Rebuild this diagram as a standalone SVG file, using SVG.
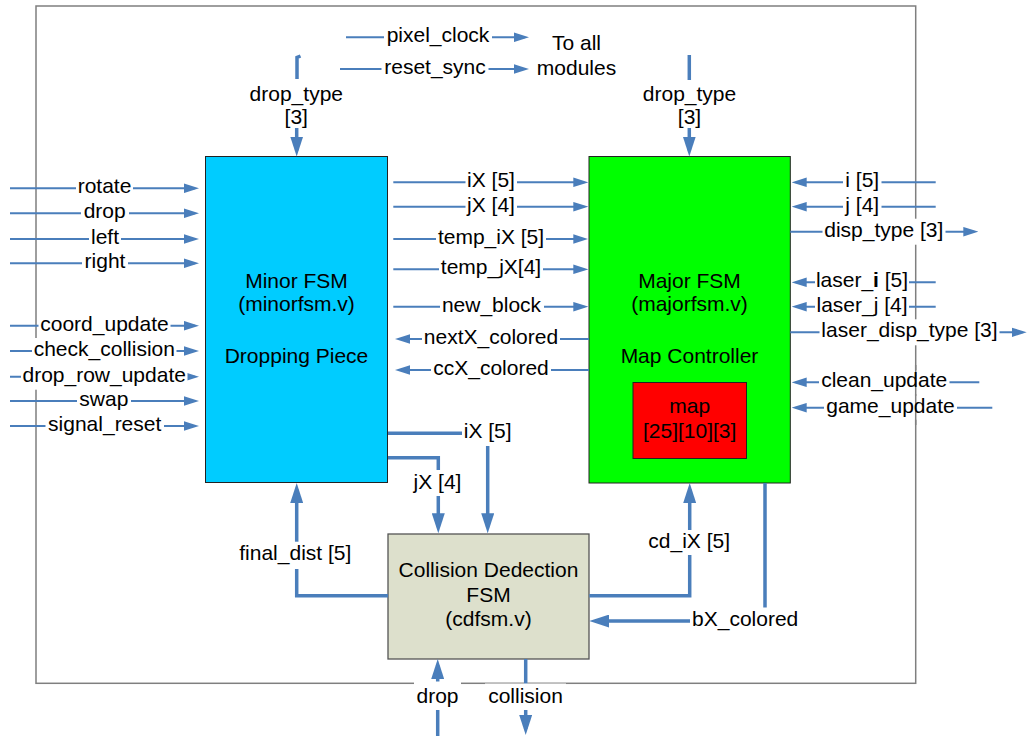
<svg xmlns="http://www.w3.org/2000/svg" width="1028" height="736" viewBox="0 0 1028 736">
<defs>
<style>
.t{font-family:"Liberation Sans",Arial,sans-serif;font-size:21px;fill:#000;text-anchor:middle}
.bg{fill:#fff}
.c{stroke:#4A7EBB;stroke-width:2;fill:none}
.ct{stroke:#4A7EBB;stroke-width:3.5;fill:none}
.frame{fill:none;stroke:#7F7F7F;stroke-width:1.5}
</style>
<marker id="a" markerUnits="userSpaceOnUse" markerWidth="15" markerHeight="10" viewBox="0 0 15 9.5" refX="11" refY="4.75" orient="auto"><path d="M0,0 L15,4.75 L0,9.5 z" fill="#4A7EBB"/></marker>
<marker id="A" markerUnits="userSpaceOnUse" markerWidth="20" markerHeight="13" viewBox="0 0 20 13" refX="14" refY="6.5" orient="auto"><path d="M0,0 L20,6.5 L0,13 z" fill="#4A7EBB"/></marker>
</defs>
<rect width="1028" height="736" fill="#fff"/>
<rect id="frame" class="frame" x="36" y="6" width="879.7" height="677.3"/>

<g id="minor">
<rect x="205.5" y="156.5" width="182" height="326" fill="#00CCFF" stroke="#222" stroke-width="1"/>
<text class="t" x="296.5" y="288">Minor FSM</text>
<text class="t" x="296.5" y="311">(minorfsm.v)</text>
<text class="t" x="296.5" y="363">Dropping Piece</text>
</g>
<g id="major">
<rect x="589" y="156.5" width="201.3" height="326.5" fill="#00FF00" stroke="#222" stroke-width="1"/>
<text class="t" x="689.5" y="288">Major FSM</text>
<text class="t" x="689.5" y="311">(majorfsm.v)</text>
<text class="t" x="689.5" y="363">Map Controller</text>
</g>
<g id="map">
<rect x="633" y="382.5" width="113.5" height="76" fill="#FF0000" stroke="#222" stroke-width="1"/>
<text class="t" x="689.7" y="412.5">map</text>
<text class="t" x="689.7" y="437.5">[25][10][3]</text>
</g>
<g id="collision">
<rect x="388" y="534" width="201" height="125" fill="#DDE0CC" stroke="#555" stroke-width="1.3"/>
<text class="t" x="488.5" y="576.5">Collision Dedection</text>
<text class="t" x="488.5" y="601.5">FSM</text>
<text class="t" x="488.5" y="625.5">(cdfsm.v)</text>
</g>

<g id="connectors">
<path class="c" d="M346,37.3 H525" marker-end="url(#a)"/>
<path class="c" d="M340,69 H525" marker-end="url(#a)"/>
<path class="ct" d="M300.5,56 L297,57.5 V79"/>
<path class="ct" d="M296.7,128 V150.5" marker-end="url(#A)"/>
<path class="ct" d="M689.3,55 V80"/>
<path class="ct" d="M689.3,128 V150.5" marker-end="url(#A)"/>
<path class="c" d="M10,188.3 H195" marker-end="url(#a)"/>
<path class="c" d="M10,213.3 H195" marker-end="url(#a)"/>
<path class="c" d="M10,239 H195" marker-end="url(#a)"/>
<path class="c" d="M10,263.3 H195" marker-end="url(#a)"/>
<path class="c" d="M10,325.7 H195" marker-end="url(#a)"/>
<path class="c" d="M10,351 H195" marker-end="url(#a)"/>
<path class="c" d="M10,376.7 H195" marker-end="url(#a)"/>
<path class="c" d="M10,401 H195" marker-end="url(#a)"/>
<path class="c" d="M10,426 H195" marker-end="url(#a)"/>
<path class="c" d="M393.3,182.3 H584.3" marker-end="url(#a)"/>
<path class="c" d="M393.3,206.7 H584.3" marker-end="url(#a)"/>
<path class="c" d="M393.3,239 H584.3" marker-end="url(#a)"/>
<path class="c" d="M393.3,269.3 H584.3" marker-end="url(#a)"/>
<path class="c" d="M393.3,306.7 H584.3" marker-end="url(#a)"/>
<path class="c" d="M589,339 H399" marker-end="url(#a)"/>
<path class="c" d="M589,370 H399" marker-end="url(#a)"/>
<path class="c" d="M935.7,182.3 H795.7" marker-end="url(#a)"/>
<path class="c" d="M935.7,206.7 H795.7" marker-end="url(#a)"/>
<path class="c" d="M790.3,231.7 H974.3" marker-end="url(#a)"/>
<path class="c" d="M935.7,282.3 H795.7" marker-end="url(#a)"/>
<path class="c" d="M935.7,306.7 H795.7" marker-end="url(#a)"/>
<path class="c" d="M790.3,332.3 H1022.7" marker-end="url(#a)"/>
<path class="c" d="M979.3,382.3 H795.7" marker-end="url(#a)"/>
<path class="c" d="M992.3,407.7 H795.7" marker-end="url(#a)"/>
<path class="ct" d="M388,433.3 H487.7 V527.3" marker-end="url(#A)"/>
<path class="ct" d="M388,457.7 H438.3 V527.3" marker-end="url(#A)"/>
<path class="ct" d="M388,595.7 H296.7 V489" marker-end="url(#A)"/>
<path class="ct" d="M589.3,595.7 H689.7 V489" marker-end="url(#A)"/>
<path class="ct" d="M765,483 V621 H595.3" marker-end="url(#A)"/>
<path class="ct" d="M437.7,736 V665" marker-end="url(#A)"/>
<path class="ct" d="M525.7,659 V729" marker-end="url(#A)"/>
</g>

<g id="label-bg">
<rect class="bg" x="384" y="25" width="108" height="25"/>
<rect class="bg" x="381.5" y="57" width="107" height="25"/>
<rect class="bg" x="76" y="175.3" width="57" height="26"/>
<rect class="bg" x="81" y="200.3" width="48" height="26"/>
<rect class="bg" x="89" y="226" width="32" height="26"/>
<rect class="bg" x="82" y="250.3" width="46" height="26"/>
<rect class="bg" x="38.5" y="312.7" width="132" height="26"/>
<rect class="bg" x="32" y="338" width="144.5" height="26"/>
<rect class="bg" x="21" y="363.7" width="166.5" height="26"/>
<rect class="bg" x="77" y="388" width="54" height="26"/>
<rect class="bg" x="45.5" y="413" width="118.5" height="26"/>
<rect class="bg" x="465.5" y="170.3" width="51.5" height="24"/>
<rect class="bg" x="465.5" y="194.7" width="51.5" height="24"/>
<rect class="bg" x="436" y="227" width="110" height="24"/>
<rect class="bg" x="439" y="257.3" width="104" height="24"/>
<rect class="bg" x="440" y="294.7" width="104" height="24"/>
<rect class="bg" x="422" y="327" width="138" height="24"/>
<rect class="bg" x="431" y="358" width="120" height="24"/>
<rect class="bg" x="843" y="170.3" width="38.5" height="24"/>
<rect class="bg" x="843" y="194.7" width="38.5" height="24"/>
<rect class="bg" x="822.5" y="218.7" width="123" height="26"/>
<rect class="bg" x="815" y="270.3" width="94" height="24"/>
<rect class="bg" x="815" y="294.7" width="94" height="24"/>
<rect class="bg" x="819.5" y="319.3" width="180" height="26"/>
<rect class="bg" x="819" y="370.3" width="130.5" height="24"/>
<rect class="bg" x="824" y="395.7" width="133" height="24"/>
<rect class="bg" x="462" y="422" width="51" height="24"/>
<rect class="bg" x="410" y="470" width="54" height="26"/>
<rect class="bg" x="238" y="541.7" width="114.5" height="27.3"/>
<rect class="bg" x="646" y="530" width="86.5" height="25"/>
<rect class="bg" x="690" y="607.5" width="111" height="25.5"/>
<rect class="bg" x="414" y="681.5" width="47" height="28.5"/>
<rect class="bg" x="485" y="683.5" width="81" height="26.5"/>
</g>
<line id="frame-overlay" x1="915.7" y1="365" x2="915.7" y2="425" stroke="#7F7F7F" stroke-width="1.5"/>

<g id="labels">
<text class="t" x="438" y="42.3">pixel_clock</text>
<text class="t" x="435" y="74">reset_sync</text>
<text class="t" x="576.5" y="50">To all</text>
<text class="t" x="576.5" y="75">modules</text>
<text class="t" x="296.3" y="101">drop_type</text>
<text class="t" x="296.3" y="124">[3]</text>
<text class="t" x="689.5" y="101">drop_type</text>
<text class="t" x="689.5" y="124">[3]</text>
<text class="t" x="104.5" y="193.3">rotate</text>
<text class="t" x="104.7" y="218.3">drop</text>
<text class="t" x="105" y="244">left</text>
<text class="t" x="105" y="268.3">right</text>
<text class="t" x="104.5" y="330.7">coord_update</text>
<text class="t" x="104.3" y="356">check_collision</text>
<text class="t" x="104.2" y="381.7">drop_row_update</text>
<text class="t" x="103.8" y="406">swap</text>
<text class="t" x="104.7" y="431">signal_reset</text>
<text class="t" x="491" y="187.3">iX [5]</text>
<text class="t" x="491" y="211.7">jX [4]</text>
<text class="t" x="491" y="244">temp_iX [5]</text>
<text class="t" x="491" y="274.3">temp_jX[4]</text>
<text class="t" x="491.5" y="311.7">new_block</text>
<text class="t" x="491" y="344">nextX_colored</text>
<text class="t" x="491" y="375">ccX_colored</text>
<text class="t" x="862.3" y="187.3">i [5]</text>
<text class="t" x="862.3" y="211.7">j [4]</text>
<text class="t" x="883.8" y="236.7">disp_type [3]</text>
<text class="t" x="862" y="287.3">laser_<tspan font-weight="bold">i</tspan> [5]</text>
<text class="t" x="862" y="311.7">laser_j [4]</text>
<text class="t" x="909.5" y="337.3">laser_disp_type [3]</text>
<text class="t" x="884.2" y="387.3">clean_update</text>
<text class="t" x="890.5" y="412.7">game_update</text>
<text class="t" x="487.7" y="438">iX [5]</text>
<text class="t" x="437.5" y="489">jX [4]</text>
<text class="t" x="295.3" y="560">final_dist [5]</text>
<text class="t" x="689.2" y="547.5">cd_iX [5]</text>
<text class="t" x="745.2" y="626.3">bX_colored</text>
<text class="t" x="437.5" y="703">drop</text>
<text class="t" x="525.5" y="703">collision</text>
</g>
</svg>
